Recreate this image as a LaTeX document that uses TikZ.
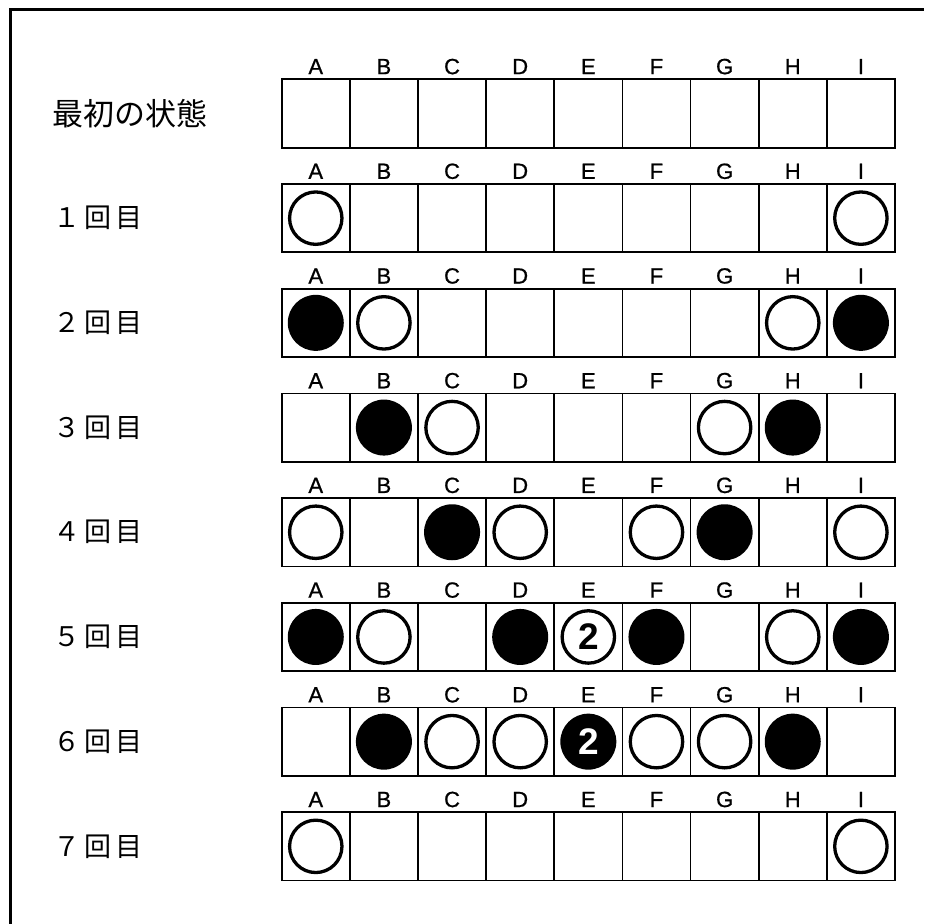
\documentclass[tikz,border=0pt]{standalone}
\usepackage{fontspec}
\newfontfamily\labfont{Liberation Sans}
\newfontfamily\colfont[FakeBold=0.8]{Liberation Sans}
\newfontfamily\jpfont{Noto Sans CJK JP}
\newfontfamily\jpspaced[LetterSpace=16]{Noto Sans CJK JP}
\begin{document}
\begin{tikzpicture}[x=1pt,y=-1pt,
  cell/.style={draw, line width=1.8pt, minimum width=68.14pt, minimum height=68.3pt, inner sep=0pt},
  collab/.style={anchor=base, inner sep=0pt, font=\colfont\fontsize{22}{22}\selectfont},
  rowlab/.style={anchor=west, inner sep=0pt, font=\jpspaced\fontsize{27}{27}\selectfont},
  pc-0/.style={inner sep=0pt, minimum size=0pt},
  pc-w/.style={circle, draw, line width=3.3pt, minimum size=52.4pt, inner sep=0pt},
  pc-b/.style={circle, fill, minimum size=56pt, inner sep=0pt},
  pc-W/.style={pc-w, label={center:{\labfont\bfseries\fontsize{37}{37}\selectfont 2}}},
  pc-B/.style={pc-b, label={center:{\labfont\bfseries\fontsize{37}{37}\selectfont\color{white}2}}}
]
\useasboundingbox (0,0) rectangle (924,924);
\draw[line width=3.6pt] (10.4,924) -- (10.4,9.6) -- (924,9.6);
\foreach \r/\row in {
  0/{0,0,0,0,0,0,0,0,0},
  1/{w,0,0,0,0,0,0,0,w},
  2/{b,w,0,0,0,0,0,w,b},
  3/{0,b,w,0,0,0,w,b,0},
  4/{w,0,b,w,0,w,b,0,w},
  5/{b,w,0,b,W,b,0,w,b},
  6/{0,b,w,w,B,w,w,b,0},
  7/{w,0,0,0,0,0,0,0,w}}{
  \pgfmathsetmacro\cy{113.45+104.7*\r}
  \foreach \c [count=\j from 0] in \row {
    \pgfmathsetmacro\cx{315.77+68.14*\j}
    \node[cell] (c-\r-\j) at (\cx,\cy) {};
    \node[pc-\c] (p-\r-\j) at (c-\r-\j.center) {};
  }
  \foreach \L [count=\j from 0] in {A,B,C,D,E,F,G,H,I} {
    \pgfmathsetmacro\cx{315.77+68.14*\j}
    \node[collab] (l-\r-\j) at (\cx,\cy-39.3) {\L};
  }
}
\node[anchor=west, inner sep=0pt, font=\jpfont\fontsize{31}{31}\selectfont] (r0) at (52,113.45) {最初の状態};
\node[rowlab] (r1) at (53,218.15) {１回目};
\node[rowlab] (r2) at (53,322.85) {２回目};
\node[rowlab] (r3) at (53,427.55) {３回目};
\node[rowlab] (r4) at (53,532.25) {４回目};
\node[rowlab] (r5) at (53,636.95) {５回目};
\node[rowlab] (r6) at (53,741.65) {６回目};
\node[rowlab] (r7) at (53,846.35) {７回目};
\end{tikzpicture}
\end{document}
